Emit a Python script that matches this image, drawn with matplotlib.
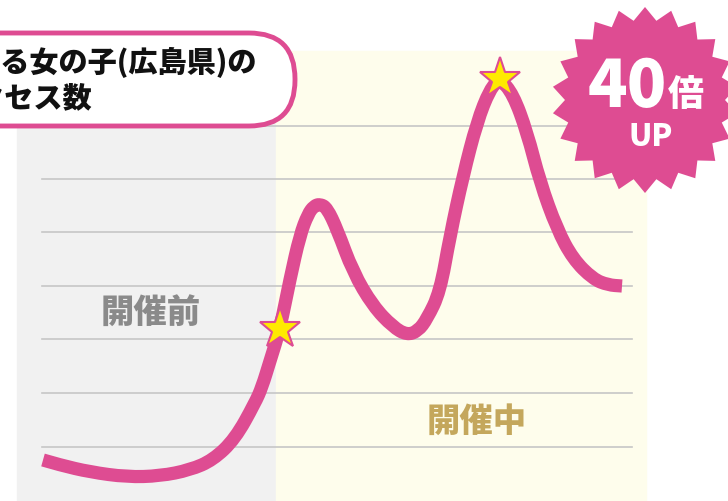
import numpy as np
import matplotlib
matplotlib.use("Agg")
import matplotlib.pyplot as plt
from matplotlib.patches import Rectangle, FancyBboxPatch, Polygon, PathPatch
from matplotlib.path import Path

plt.rcParams['font.family'] = ['Noto Sans CJK JP', 'DejaVu Sans']

# access curve (x, y in pixel space of the 728x502 image)
curve_x = [43, 60, 90, 127, 160, 190, 213, 235, 255, 262, 270, 280, 290, 300,
           308, 314, 320, 327, 337, 353, 373, 393, 407, 418, 427, 440, 450,
           463, 477, 490, 500, 513, 527, 540, 557, 573, 593, 608, 622]
curve_y = [461, 466, 473, 478, 477, 471, 461, 440, 404, 388, 362, 330, 280, 236,
           215, 207, 205, 209, 230, 273, 307, 328, 336, 332, 320, 293, 237,
           177, 123, 90, 80, 95, 133, 183, 230, 260, 280, 286, 287]
star_idx = [11, 30]

grid_y = [127, 180, 233, 287, 340, 394, 448]

title_lines = ["とある女の子(広島県)の", "アクセス数"]
phase_labels = ["開催前", "開催中"]
badge_main = "40"
badge_unit = "倍"
badge_sub = "UP"

pink = "#DE4C92"

fig = plt.figure(figsize=(7.28, 5.02), dpi=100)
ax = fig.add_axes([0, 0, 1, 1])
ax.set_xlim(0, 728)
ax.set_ylim(502, 0)
ax.axis('off')

# background panels
ax.add_patch(Rectangle((17, 52), 259, 460, color="#F1F1F1", zorder=0))
ax.add_patch(Rectangle((276, 52), 370, 460, color="#FEFDEC", zorder=0))

for gy in grid_y:
    ax.plot([42, 632], [gy, gy], color="#C6C6C6", lw=1.2, zorder=1)

ax.text(151, 313, phase_labels[0], fontsize=24, fontweight='heavy',
        color="#8A8A8A", ha='center', va='center', zorder=2)
ax.text(477, 421, phase_labels[1], fontsize=24, fontweight='heavy',
        color="#C4A75C", ha='center', va='center', zorder=2)

# the curve, smoothed with quadratic bezier segments through the read points
pts = list(zip(curve_x, curve_y))
verts = [pts[0]]
codes = [Path.MOVETO]
for i in range(1, len(pts) - 1):
    mid = ((pts[i][0] + pts[i + 1][0]) / 2, (pts[i][1] + pts[i + 1][1]) / 2)
    verts += [pts[i], mid]
    codes += [Path.CURVE3, Path.CURVE3]
verts.append(pts[-1])
codes.append(Path.LINETO)
ax.add_patch(PathPatch(Path(verts, codes), fc='none', ec=pink, lw=9.5,
                       capstyle='butt', joinstyle='round', zorder=3))
ax.plot([curve_x[i] for i in star_idx], [curve_y[i] for i in star_idx],
        ls='none', marker='*', ms=31, mfc="#FFEA00", mec=pink, mew=1.5,
        zorder=4)

# title box
box = FancyBboxPatch((-100, 34), 395, 93,
                     boxstyle="round,pad=0,rounding_size=46",
                     fc="white", ec=pink, lw=3.5, zorder=5)
ax.add_patch(box)
ax.text(257, 63, title_lines[0], fontsize=21, fontweight='heavy',
        color="#111111", ha='right', va='center', zorder=6)
ax.text(93, 98, title_lines[1], fontsize=21, fontweight='heavy',
        color="#111111", ha='right', va='center', zorder=6)

# starburst badge
n = 22
cx, cy = 645, 101
ang = np.linspace(0, 2 * np.pi, 2 * n, endpoint=False) - np.pi / 2
rad = np.where(np.arange(2 * n) % 2 == 0, 93, 80)
star = np.column_stack([cx + rad * np.cos(ang), cy + rad * np.sin(ang)])
ax.add_patch(Polygon(star, closed=True, fc=pink, ec='none', zorder=5))
ax.text(627, 88, badge_main, fontsize=47, fontweight='heavy', color='white',
        ha='center', va='center', zorder=6)
ax.text(686, 95, badge_unit, fontsize=26, fontweight='heavy', color='white',
        ha='center', va='center', zorder=6)
ax.text(651, 137, badge_sub, fontsize=22, fontweight='heavy', color='white',
        ha='center', va='center', zorder=6)

fig.savefig("out.png", dpi=100)
